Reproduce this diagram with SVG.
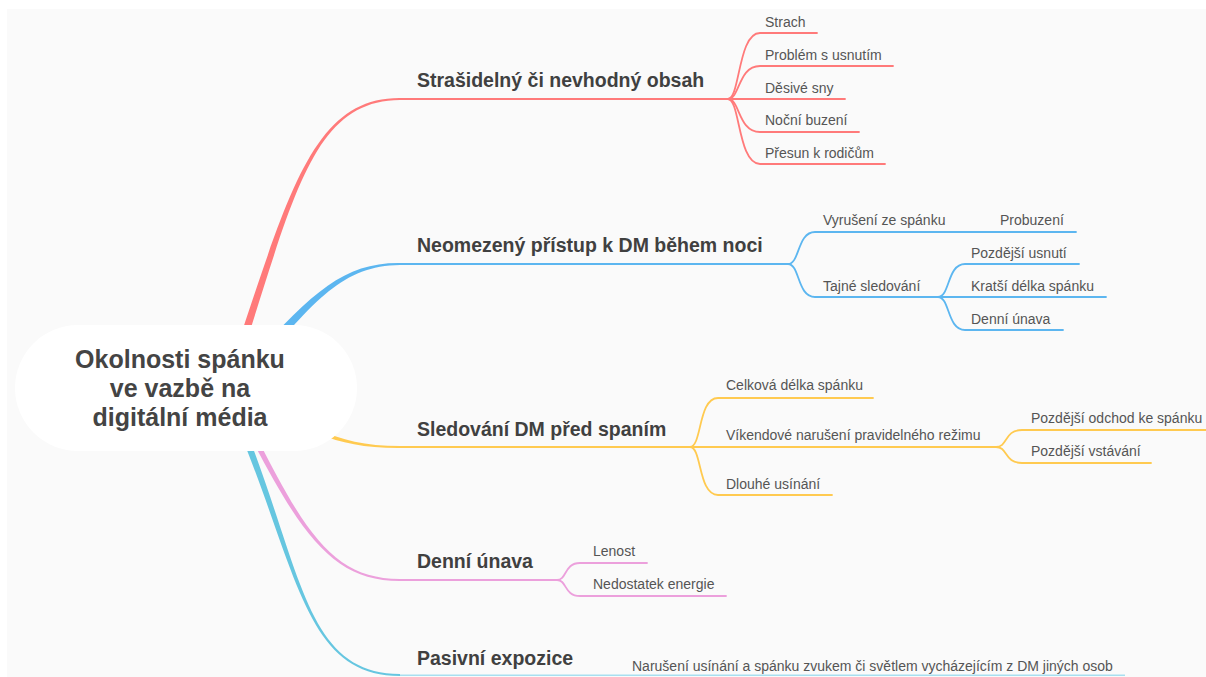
<svg xmlns="http://www.w3.org/2000/svg" width="1206" height="677" viewBox="0 0 1206 677">
  <style>
    .root { font-family: "Liberation Sans", Arial, sans-serif; font-size: 25px; font-weight: bold; fill: #444; text-anchor: middle; }
    .main { font-family: "Liberation Sans", Arial, sans-serif; font-size: 19.5px; font-weight: bold; fill: #404040; }
    .sub { font-family: "Liberation Sans", Arial, sans-serif; font-size: 14px; fill: #555; }
    .ln { fill: none; stroke-width: 1.8; stroke-linecap: round; }
    .red { stroke: #ff7a7a; } .redf { fill: #ff7a7a; }
    .blue { stroke: #5cb6f0; } .bluef { fill: #5cb6f0; }
    .yel { stroke: #ffca50; } .yelf { fill: #ffca50; }
    .pink { stroke: #eca0dc; } .pinkf { fill: #eca0dc; }
    .cyan { stroke: #66c6e0; } .cyanf { fill: #66c6e0; }
  </style>

  <!-- canvas -->
  <rect x="0" y="0" width="1206" height="677" fill="#ffffff"/>
  <rect x="7" y="9" width="1199" height="668" fill="#fafafa"/>

  <g id="connectors">
    <!-- tapered trunks from the central topic -->
    <path class="redf" d="M233.8 381.3 C292.8 201 310 100.5 400 100 L400 98 C310 97.5 287.2 199.1 226.2 378.7 Z"/>
    <path class="bluef" d="M243.8 383.3 C313 302.6 340 265.8 400 265 L400 263 C340 262.2 307 297.4 236.2 376.7 Z"/>
    <path class="yelf" d="M247.5 388.1 C298.1 427.3 330 448.5 400 448 L400 446 C330 445.5 301.9 422.7 252.5 381.9 Z"/>
    <path class="pinkf" d="M237.3 411.3 C298 531 330 581.2 400 581 L400 579 C330 578.8 302 529 242.7 408.7 Z"/>
    <path class="cyanf" d="M226.8 401.4 C297.7 561 300 676.2 400 676 L400 674 C300 673.8 302.3 559 233.2 398.6 Z"/>

    <!-- branch underlines -->
    <path class="ln red" d="M400 99 L728 99"/>
    <path class="ln blue" d="M400 264 L788 264"/>
    <path class="ln yel" d="M400 447 L690 447"/>
    <path class="ln pink" d="M400 580 L557 580"/>
    <path fill="none" stroke="#a8dff0" stroke-width="1.6" d="M400 675.2 L1125 675.2"/>

    <!-- red children -->
    <path class="ln red" d="M728 99 C740 99 738 33 760 33 L817 33"/>
    <path class="ln red" d="M728 99 C740 99 738 66 760 66 L893 66"/>
    <path class="ln red" d="M728 99 L845 99"/>
    <path class="ln red" d="M728 99 C740 99 738 132 760 132 L859 132"/>
    <path class="ln red" d="M728 99 C740 99 738 164 760 164 L885 164"/>

    <!-- blue children -->
    <path class="ln blue" d="M788 264 C800 264 797 232 815 232 L1076 232"/>
    <path class="ln blue" d="M788 264 C800 264 797 297 815 297 L938 297"/>
    <path class="ln blue" d="M938 297 C950 297 947 264 965 264 L1079 264"/>
    <path class="ln blue" d="M938 297 L1106 297"/>
    <path class="ln blue" d="M938 297 C950 297 947 330 965 330 L1063 330"/>

    <!-- yellow children -->
    <path class="ln yel" d="M690 447 C702 447 698 398 718 398 L873 398"/>
    <path class="ln yel" d="M690 447 L996 447"/>
    <path class="ln yel" d="M690 447 C702 447 698 495 718 495 L832 495"/>
    <path class="ln yel" d="M996 447 C1008 447 1004 430 1022 430 L1206 430"/>
    <path class="ln yel" d="M996 447 C1008 447 1004 463 1022 463 L1151 463"/>

    <!-- pink children -->
    <path class="ln pink" d="M557 580 C567 580 564 563 580 563 L647 563"/>
    <path class="ln pink" d="M557 580 C567 580 564 596 580 596 L726 596"/>
  </g>

  <g id="root">
    <rect x="15" y="325" width="342" height="126" rx="63" fill="#ffffff"/>
    <text class="root" x="180" y="368">Okolnosti spánku</text>
    <text class="root" x="180" y="397">ve vazbě na</text>
    <text class="root" x="180" y="426">digitální média</text>
  </g>

  <g id="n-obsah">
    <text class="main" x="417" y="87">Strašidelný či nevhodný obsah</text>
  </g>
  <g id="n-strach"><text class="sub" x="765" y="26.5">Strach</text></g>
  <g id="n-usnuti"><text class="sub" x="765" y="59.5">Problém s usnutím</text></g>
  <g id="n-sny"><text class="sub" x="765" y="92.5">Děsivé sny</text></g>
  <g id="n-buzeni"><text class="sub" x="765" y="125">Noční buzení</text></g>
  <g id="n-presun"><text class="sub" x="765" y="157.5">Přesun k rodičům</text></g>

  <g id="n-pristup">
    <text class="main" x="417" y="252">Neomezený přístup k DM během noci</text>
  </g>
  <g id="n-vyruseni"><text class="sub" x="823" y="225">Vyrušení ze spánku</text></g>
  <g id="n-probuzeni"><text class="sub" x="1000" y="225">Probuzení</text></g>
  <g id="n-tajne"><text class="sub" x="823" y="290.5">Tajné sledování</text></g>
  <g id="n-pozdejsi-usnuti"><text class="sub" x="971" y="258">Pozdější usnutí</text></g>
  <g id="n-kratsi"><text class="sub" x="971" y="291">Kratší délka spánku</text></g>
  <g id="n-denni-unava-b"><text class="sub" x="971" y="323.5">Denní únava</text></g>

  <g id="n-sledovani">
    <text class="main" x="417" y="436">Sledování DM před spaním</text>
  </g>
  <g id="n-celkova"><text class="sub" x="726" y="390">Celková délka spánku</text></g>
  <g id="n-vikendove"><text class="sub" x="726" y="440">Víkendové narušení pravidelného režimu</text></g>
  <g id="n-dlouhe"><text class="sub" x="726" y="489">Dlouhé usínání</text></g>
  <g id="n-odchod"><text class="sub" x="1031" y="423">Pozdější odchod ke spánku</text></g>
  <g id="n-vstavani"><text class="sub" x="1031" y="456">Pozdější vstávání</text></g>

  <g id="n-unava">
    <text class="main" x="417" y="568">Denní únava</text>
  </g>
  <g id="n-lenost"><text class="sub" x="593" y="556">Lenost</text></g>
  <g id="n-energie"><text class="sub" x="593" y="589">Nedostatek energie</text></g>

  <g id="n-pasivni">
    <text class="main" x="417" y="665">Pasivní expozice</text>
  </g>
  <g id="n-naruseni"><text class="sub" x="632" y="671">Narušení usínání a spánku zvukem či světlem vycházejícím z DM jiných osob</text></g>
</svg>
